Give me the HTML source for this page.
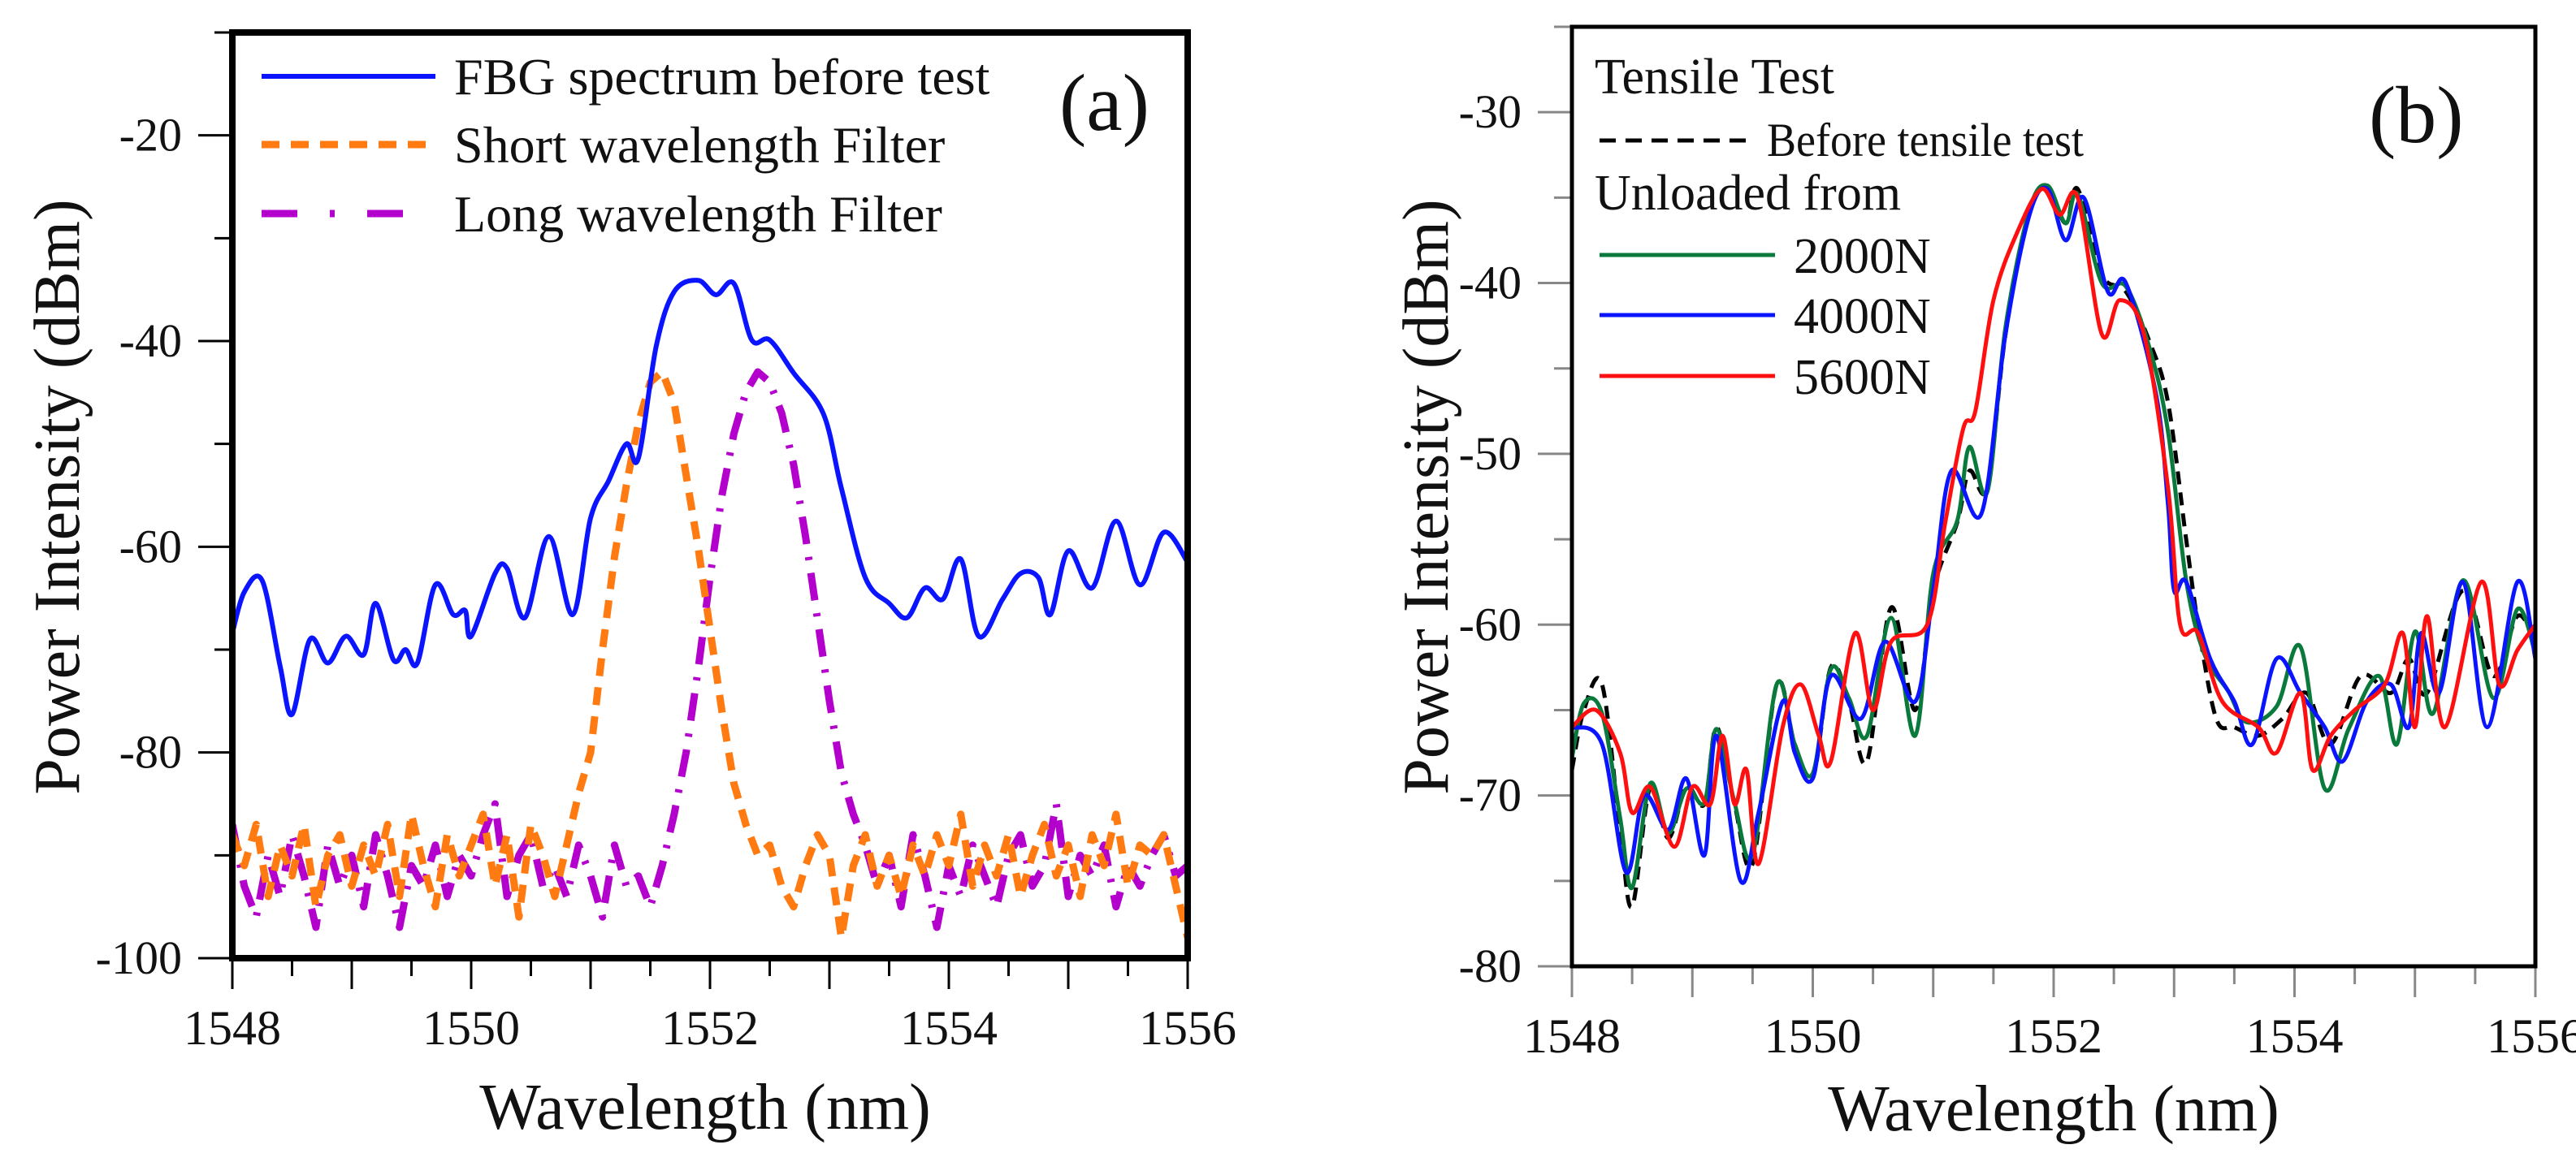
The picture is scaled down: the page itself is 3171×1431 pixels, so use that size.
<!DOCTYPE html>
<html><head><meta charset="utf-8"><style>
html,body{margin:0;padding:0;background:#fff;}
svg{display:block;font-family:"Liberation Serif","Times New Roman",serif;}
svg text{font-family:"Liberation Serif","Times New Roman",serif;fill:#111;}
</style></head><body>
<svg id="fig" width="3171" height="1431" viewBox="0 0 3171 1431" xmlns="http://www.w3.org/2000/svg" font-family="Liberation Serif, serif"></svg>
<script>
// ---------- Panel (a) data ----------
const aBlueX=[1548.0,1548.1,1548.25,1548.4,1548.5,1548.65,1548.8,1548.95,1549.1,1549.2,1549.35,1549.45,1549.55,1549.7,1549.85,1549.95,1550.0,1550.2,1550.3,1550.45,1550.65,1550.85,1551.0,1551.15,1551.3,1551.4,1551.55,1551.7,1551.9,1552.05,1552.2,1552.35,1552.5,1552.7,1552.95,1553.1,1553.3,1553.5,1553.65,1553.8,1553.95,1554.1,1554.25,1554.45,1554.6,1554.75,1554.85,1555.0,1555.2,1555.4,1555.6,1555.8,1556.0];
const aBlueY=[-68.4,-64.4,-63.3,-71.6,-76.3,-69,-71.3,-68.7,-70.5,-65.5,-71,-70,-71.3,-63.7,-66.6,-66.2,-68.7,-62.6,-62.1,-66.9,-59,-66.6,-57.2,-53.6,-50,-51.4,-40.5,-35.2,-34.1,-35.5,-34.4,-39.9,-39.9,-43.1,-47.1,-54.3,-63,-65.5,-66.9,-64,-65.1,-61.2,-68.7,-65.1,-62.6,-63,-66.6,-60.4,-64,-57.5,-63.7,-58.6,-61.5];
const aGridStart=1548.0, aGridStep=0.1;
const aOrangeY=[-88,-91,-87,-94,-89,-92,-87,-95,-90,-88,-93,-89,-92,-87,-94,-86,-91,-95,-88,-92,-89,-86,-93,-88,-96,-87,-90,-94,-89,-84,-80,-70,-61,-54,-48,-44,-43,-46,-53,-60,-68,-76,-83,-87,-90,-89,-93,-95,-91,-88,-90,-98,-91,-88,-93,-90,-94,-89,-92,-88,-91,-86,-93,-89,-92,-88,-94,-90,-87,-92,-89,-94,-88,-91,-86,-93,-89,-90,-88,-93,-98];
const aPurpleY=[-87,-93,-96,-90,-94,-88,-92,-97,-89,-93,-90,-95,-88,-92,-97,-91,-93,-89,-94,-90,-92,-88,-85,-94,-90,-88,-93,-91,-94,-89,-92,-96,-89,-93,-92,-95,-91,-86,-80,-72,-63,-55,-49,-45,-43,-44,-47,-52,-59,-67,-75,-82,-86,-89,-93,-90,-95,-88,-92,-97,-91,-94,-89,-92,-95,-90,-88,-93,-91,-85,-94,-90,-92,-89,-95,-91,-93,-90,-88,-92,-91];
const aYTicks=[-20,-40,-60,-80,-100];
const aXTicks=[1548,1550,1552,1554,1556];
// ---------- Panel (b) data ----------
const bBlackX=[1548,1548.1,1548.25,1548.4,1548.5,1548.65,1548.8,1548.95,1549.1,1549.2,1549.35,1549.5,1549.7,1549.85,1550.0,1550.15,1550.3,1550.45,1550.65,1550.85,1551.0,1551.2,1551.3,1551.45,1551.6,1551.8,1551.95,1552.1,1552.2,1552.4,1552.6,1552.8,1552.95,1553.1,1553.2,1553.35,1553.5,1553.7,1553.9,1554.1,1554.3,1554.55,1554.8,1554.95,1555.1,1555.4,1555.65,1555.85,1556];
const bBlackY=[-68.5,-65,-63.5,-72,-76.5,-69.5,-72.5,-69.5,-70.5,-66,-70.5,-74,-63.5,-67,-69,-62.5,-64.5,-68,-59,-65,-58,-54,-51,-52,-43,-35.8,-34.5,-36.5,-34.5,-39.5,-40.5,-43.5,-47,-55,-60,-65.5,-66,-66.5,-65.5,-64,-67,-63,-64,-62,-64,-58,-63,-59.5,-61];
const bGreenX=[1548.0,1548.1,1548.25,1548.4,1548.5,1548.65,1548.8,1548.95,1549.1,1549.2,1549.35,1549.5,1549.7,1549.85,1550.0,1550.15,1550.3,1550.45,1550.65,1550.85,1551.0,1551.2,1551.3,1551.45,1551.6,1551.8,1551.95,1552.1,1552.2,1552.4,1552.6,1552.8,1552.95,1553.1,1553.25,1553.45,1553.6,1553.85,1554.05,1554.25,1554.45,1554.7,1554.85,1555.0,1555.15,1555.4,1555.65,1555.85,1556.0];
const bGreenY=[-67.8,-64.6,-65.2,-71.3,-75.4,-69.3,-72.2,-69.6,-70.4,-66.1,-70.4,-73.5,-63.5,-67,-68.7,-62.6,-64.3,-66.5,-59.6,-66.5,-57,-53.9,-49.6,-52.2,-42.6,-35.7,-34.3,-36.5,-34.8,-40,-40.2,-43.9,-48.7,-57.4,-61.7,-63.9,-65.7,-64.8,-61.3,-69.6,-66.1,-63,-67,-60.4,-65.2,-57.4,-64.3,-59.1,-61.7];
const bBlueX=[1548,1548.25,1548.45,1548.6,1548.8,1548.95,1549.1,1549.2,1549.4,1549.55,1549.75,1549.85,1550.0,1550.15,1550.4,1550.6,1550.85,1551.0,1551.15,1551.4,1551.6,1551.8,1551.95,1552.1,1552.25,1552.45,1552.6,1552.85,1552.95,1553.0,1553.1,1553.3,1553.5,1553.65,1553.85,1554.05,1554.25,1554.4,1554.6,1554.8,1554.95,1555.05,1555.2,1555.4,1555.6,1555.85,1556.0];
const bBlueY=[-66,-67,-74.5,-70,-72,-69,-73.5,-66.5,-75,-71,-64.5,-67.5,-69,-63,-65.5,-61,-64.5,-58,-51,-53.5,-43,-36,-34.5,-37.5,-35,-40.5,-40,-46.5,-53,-58,-57.5,-62,-64.5,-67,-62,-64,-66,-68,-64.5,-63.5,-66,-60.5,-64,-57.5,-66,-57.5,-62];
const bRedX=[1548,1548.2,1548.4,1548.5,1548.65,1548.85,1549.0,1549.15,1549.25,1549.35,1549.45,1549.55,1549.75,1549.9,1550.05,1550.15,1550.35,1550.5,1550.65,1550.95,1551.1,1551.25,1551.35,1551.5,1551.7,1551.9,1552.05,1552.2,1552.4,1552.55,1552.75,1552.95,1553.05,1553.2,1553.4,1553.7,1553.85,1554.05,1554.15,1554.3,1554.5,1554.75,1554.9,1555.0,1555.1,1555.25,1555.55,1555.7,1555.85,1556];
const bRedY=[-66,-65,-67.5,-71,-69.5,-73,-69.5,-70.5,-66.5,-70.5,-68.5,-74,-66,-63.5,-66.5,-68,-60.5,-65,-61,-60,-54,-48.5,-47.5,-41,-37,-34.5,-36,-35,-43,-41,-43,-52,-60,-60.5,-64.5,-66,-67.5,-64,-68.5,-66.5,-65,-63.5,-60.5,-66,-59.5,-66,-57.5,-63.5,-61.5,-60];
const bYTicks=[-30,-40,-50,-60,-70,-80];
const bXTicks=[1548,1550,1552,1554,1556];

const NS="http://www.w3.org/2000/svg";
const svg=document.getElementById('fig');
function mk(tag,attrs,parent){const e=document.createElementNS(NS,tag);for(const k in attrs)e.setAttribute(k,attrs[k]);(parent||svg).appendChild(e);return e;}

const ax={x0:286,x1:1462,y0:1180,y1:40,xmin:1548,xmax:1556,ymin:-100,ymax:-10};
const bx={x0:1935,x1:3121,y0:1190,y1:33,xmin:1548,xmax:1556,ymin:-80,ymax:-25};
function sx(p,v){return p.x0+(v-p.xmin)/(p.xmax-p.xmin)*(p.x1-p.x0);}
function sy(p,v){return p.y0-(v-p.ymin)/(p.ymax-p.ymin)*(p.y0-p.y1);}

function smoothPath(pts){
  let d='M'+pts[0][0].toFixed(1)+','+pts[0][1].toFixed(1);
  for(let i=0;i<pts.length-1;i++){
    const p0=pts[Math.max(0,i-1)],p1=pts[i],p2=pts[i+1],p3=pts[Math.min(pts.length-1,i+2)];
    const c1x=p1[0]+(p2[0]-p0[0])/6,c1y=p1[1]+(p2[1]-p0[1])/6;
    const c2x=p2[0]-(p3[0]-p1[0])/6,c2y=p2[1]-(p3[1]-p1[1])/6;
    d+=' C'+c1x.toFixed(1)+','+c1y.toFixed(1)+' '+c2x.toFixed(1)+','+c2y.toFixed(1)+' '+p2[0].toFixed(1)+','+p2[1].toFixed(1);
  }
  return d;
}
function linePath(pts){return 'M'+pts.map(p=>p[0].toFixed(1)+','+p[1].toFixed(1)).join(' L');}

const FF='"Liberation Serif", "Times New Roman", serif';

function drawAxes(p,yt,xt,yMinorStep,frameW,tickCol,name){
  const g=mk('g',{});
  
  
  for(let v=p.ymin;v<=p.ymax+0.001;v+=yMinorStep){
    const major=yt.indexOf(Math.round(v))>=0;
    const t=mk('line',{x1:p.x0-(major?42:22),x2:p.x0,y1:sy(p,v),y2:sy(p,v),stroke:tickCol,'stroke-width':3},g);
    
    
  }
  yt.forEach(v=>{
    const t=mk('text',{x:p.x0-62,y:sy(p,v)+19,'font-size':58,'text-anchor':'end','font-family':FF},g);
    t.textContent=String(v);
    
    
  });
  for(let v=p.xmin;v<=p.xmax+0.001;v+=0.5){
    const major=Math.abs(v-Math.round(v))<0.01;
    const t=mk('line',{x1:sx(p,v),x2:sx(p,v),y1:p.y0,y2:p.y0+(major?38:22),stroke:tickCol,'stroke-width':3},g);
    
    
  }
  xt.forEach(v=>{
    const t=mk('text',{x:sx(p,v),y:p.y0+106,'font-size':60,'text-anchor':'middle','font-family':FF},g);
    t.textContent=String(v);
    
    
  });
  const f=mk('rect',{x:p.x0,y:p.y1,width:p.x1-p.x0,height:p.y0-p.y1,fill:'none',stroke:'#000','stroke-width':frameW},g);
  
  
}

function seriesIn(g,p,xs,ys,attrs,name,smooth){
  const pts=xs.map((x,i)=>[sx(p,x),sy(p,ys[i])]);
  const a=Object.assign({d:smooth?smoothPath(pts):linePath(pts),fill:'none','stroke-linejoin':'round'},attrs);
  const e=mk('path',a,g);
  
  
}

// ---------- Panel (a) ----------
const clipA=mk('clipPath',{id:'clipA'});mk('rect',{x:ax.x0,y:ax.y1,width:ax.x1-ax.x0,height:ax.y0-ax.y1},clipA);
const gridX=aOrangeY.map((_,i)=>aGridStart+i*aGridStep);
const gA=mk('g',{'clip-path':'url(#clipA)'});
seriesIn(gA,ax,gridX,aPurpleY,{stroke:'#b400cc','stroke-width':9,'stroke-dasharray':'34 16 4 16'},'long-wavelength-filter-line',false);
seriesIn(gA,ax,gridX,aOrangeY,{stroke:'#ff7a10','stroke-width':9,'stroke-dasharray':'22 14'},'short-wavelength-filter-line',false);
seriesIn(gA,ax,aBlueX,aBlueY,{stroke:'#0a14ff','stroke-width':6},'fbg-spectrum-line',true);
drawAxes(ax,aYTicks,aXTicks,10,8,'#000','panel-a');

function legLine(x1,x2,y,attrs,name){const e=mk('line',Object.assign({x1:x1,x2:x2,y1:y,y2:y},attrs));}
function txt(x,y,s,fs,name,extra){const e=mk('text',Object.assign({x:x,y:y,'font-size':fs,'font-family':FF},extra||{}));e.textContent=s;return e;}
legLine(322,536,94,{stroke:'#0a14ff','stroke-width':6},'legend-fbg-line');
txt(559,116,'FBG spectrum before test',64,'legend-fbg-label');
legLine(322,536,178,{stroke:'#ff7a10','stroke-width':9,'stroke-dasharray':'22 14'},'legend-short-filter-line');
txt(559,200,'Short wavelength Filter',64,'legend-short-filter-label');
legLine(322,536,263,{stroke:'#b400cc','stroke-width':9,'stroke-dasharray':'44 40 6 40'},'legend-long-filter-line');
txt(559,285,'Long wavelength Filter',64,'legend-long-filter-label');
txt(1304,160,'(a)',100,'panel-a-label');
txt(868,1390,'Wavelength (nm)',80,'panel-a-x-axis-title',{'text-anchor':'middle'});
txt(0,0,'Power Intensity (dBm)',80,'panel-a-y-axis-title',{'text-anchor':'middle',transform:'translate(97,612) rotate(-90)'});

// ---------- Panel (b) ----------
const clipB=mk('clipPath',{id:'clipB'});mk('rect',{x:bx.x0,y:bx.y1,width:bx.x1-bx.x0,height:bx.y0-bx.y1},clipB);
const gB=mk('g',{'clip-path':'url(#clipB)'});
seriesIn(gB,bx,bBlackX,bBlackY,{stroke:'#000','stroke-width':5,'stroke-dasharray':'16 10'},'before-tensile-test-line',true);
seriesIn(gB,bx,bGreenX,bGreenY,{stroke:'#0a7a3c','stroke-width':5},'unloaded-2000n-line',true);
seriesIn(gB,bx,bBlueX,bBlueY,{stroke:'#0a14ff','stroke-width':5},'unloaded-4000n-line',true);
seriesIn(gB,bx,bRedX,bRedY,{stroke:'#ff1010','stroke-width':5},'unloaded-5600n-line',true);
drawAxes(bx,bYTicks,bXTicks,5,5,'#888','panel-b');

txt(1963,115,'Tensile Test',62,'legend-title-tensile-test');
legLine(1969,2161,173,{stroke:'#000','stroke-width':5,'stroke-dasharray':'20 12'},'legend-before-test-line');
txt(2175,192,'Before tensile test',58,'legend-before-test-label',{textLength:390,lengthAdjust:'spacingAndGlyphs'});
txt(1963,258,'Unloaded from',62,'legend-unloaded-from-title');
legLine(1969,2185,314,{stroke:'#0a7a3c','stroke-width':5},'legend-2000n-line');
txt(2208,336,'2000N',62,'legend-2000n-label');
legLine(1969,2185,388,{stroke:'#0a14ff','stroke-width':5},'legend-4000n-line');
txt(2208,410,'4000N',62,'legend-4000n-label');
legLine(1969,2185,463,{stroke:'#ff1010','stroke-width':5},'legend-5600n-line');
txt(2208,485,'5600N',62,'legend-5600n-label');
txt(2916,175,'(b)',100,'panel-b-label');
txt(2528,1392,'Wavelength (nm)',80,'panel-b-x-axis-title',{'text-anchor':'middle'});
txt(0,0,'Power Intensity (dBm)',80,'panel-b-y-axis-title',{'text-anchor':'middle',transform:'translate(1782,612) rotate(-90)'});
</script>
</body></html>
